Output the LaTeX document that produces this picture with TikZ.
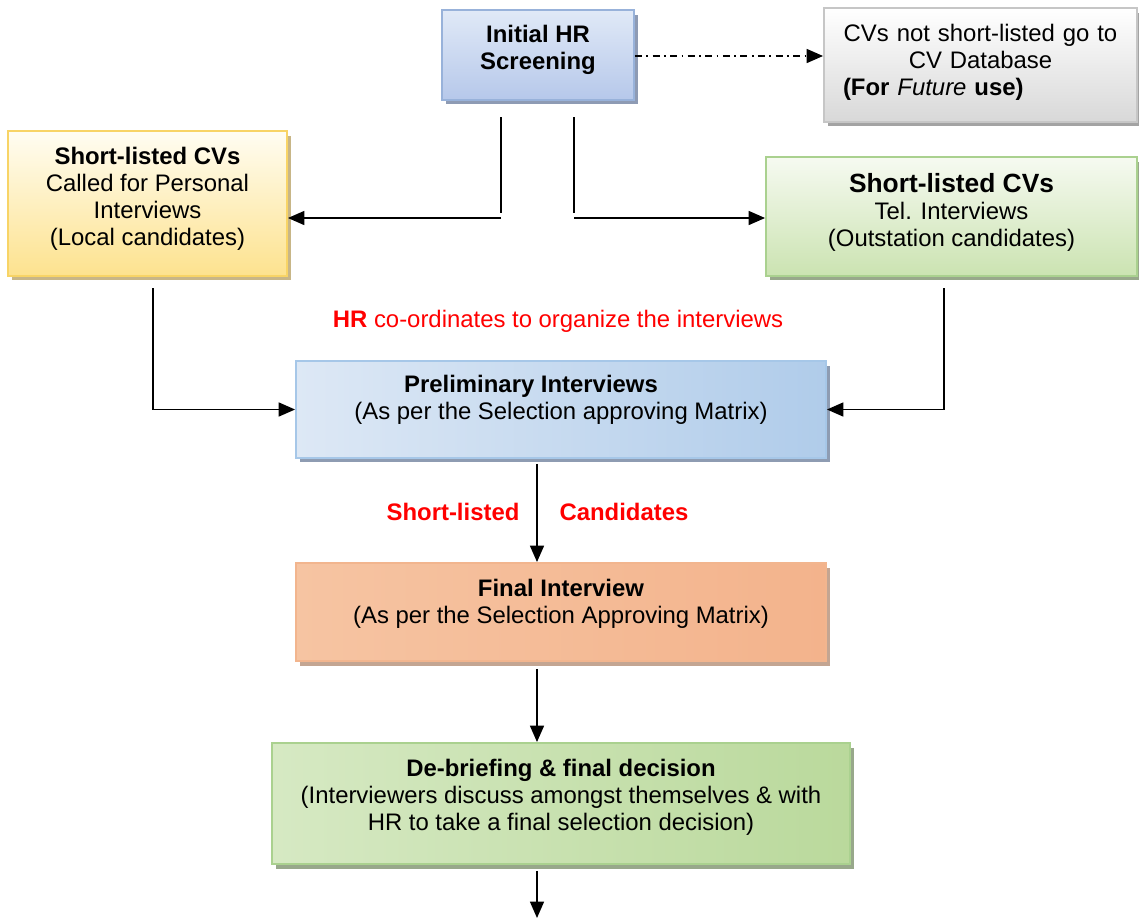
\documentclass[tikz,border=0pt]{standalone}
\usepackage{fontspec}
\setmainfont{Liberation Sans}
\usetikzlibrary{arrows.meta, shadows}
\definecolor{hrline}{HTML}{98B2DA}
\definecolor{hrtop}{HTML}{E0E9F7}
\definecolor{hrbot}{HTML}{B6C8EA}
\definecolor{hrshad}{HTML}{8E9BB4}
\definecolor{dbline}{HTML}{C6C6C6}
\definecolor{dbbot}{HTML}{D8D8D8}
\definecolor{dbshad}{HTML}{A3A3A3}
\definecolor{ylline}{HTML}{F8D466}
\definecolor{yltop}{HTML}{FFFDF2}
\definecolor{ylbot}{HTML}{FDE28E}
\definecolor{ylshad}{HTML}{C8B687}
\definecolor{grline}{HTML}{AAD18F}
\definecolor{grtop}{HTML}{F6FAF1}
\definecolor{grbot}{HTML}{CBE3B1}
\definecolor{grshad}{HTML}{98A88B}
\definecolor{blline}{HTML}{A6C7E8}
\definecolor{blleft}{HTML}{DDE8F5}
\definecolor{blright}{HTML}{B0CCEA}
\definecolor{blshad}{HTML}{8E9CB2}
\definecolor{orline}{HTML}{F2B58E}
\definecolor{orleft}{HTML}{F6C4A2}
\definecolor{ormid}{HTML}{FDEDE3}
\definecolor{orright}{HTML}{F3B38C}
\definecolor{orshad}{HTML}{C3A592}
\definecolor{dgleft}{HTML}{D6E9C3}
\definecolor{dgmid}{HTML}{EAF3E1}
\definecolor{dgright}{HTML}{BAD99C}
\definecolor{hrred}{HTML}{FF0000}
\newcommand{\lowpad}[1]{\rule[-#1]{0pt}{#1}}

\begin{document}
\begin{tikzpicture}[x=0.02cm, y=-0.02cm, font=\fontsize{13.6}{15.4}\selectfont,
    >={Triangle[length=0.33cm, width=0.28cm]},
    box/.style={draw, line width=1.1pt, align=center, inner sep=0pt},
    boxshadow/.style={drop shadow={shadow xshift=0.08cm, shadow yshift=-0.09cm, fill=#1, opacity=1}},
    link/.style={line width=1pt, black},
    dashdotline/.style={dash pattern=on 4pt off 2.5pt on 1pt off 2.5pt},
    note/.style={text=hrred}]
\useasboundingbox (0,0) rectangle (1139,920);

\node[box, draw=hrline, top color=hrtop, bottom color=hrbot, boxshadow=hrshad, minimum width=3.84cm, minimum height=1.8cm, font=\fontsize{13.6}{15.4}\selectfont\bfseries] (screen) at (538,55) {Initial HR\\Screening\lowpad{0.3cm}};
\node[box, draw=dbline, top color=white, bottom color=dbbot, boxshadow=dbshad, minimum width=6.26cm, minimum height=2.28cm, text width=5.5cm, align=left] (cvdb) at (980.5,65) {{\centering CVs not short-listed go to\\CV Database\par}\textbf{(For} \textit{Future} \textbf{use)}\lowpad{0.22cm}};
\node[box, draw=ylline, top color=yltop, bottom color=ylbot, boxshadow=ylshad, minimum width=5.58cm, minimum height=2.9cm] (localcv) at (147.5,203.5) {\textbf{Short-listed CVs}\\Called for Personal\\Interviews\\(Local candidates)\lowpad{0.28cm}};
\node[box, draw=grline, top color=grtop, bottom color=grbot, boxshadow=grshad, minimum width=7.42cm, minimum height=2.38cm] (telcv) at (951.5,216.5) {{\fontsize{15}{17}\selectfont\textbf{Short-listed CVs}}\\Tel. Interviews\\(Outstation candidates)\lowpad{0.28cm}};
\node[box, draw=blline, left color=blleft, right color=blright, boxshadow=blshad, minimum width=10.6cm, minimum height=1.94cm] (prelim) at (561,409.5) {\textbf{Preliminary Interviews}\hspace*{1.2cm}\\(As per the Selection approving Matrix)\lowpad{0.5cm}};
\node[box, draw=orline, left color=orleft, middle color=ormid, right color=orright, boxshadow=orshad, minimum width=10.6cm, minimum height=1.96cm] (finalint) at (561,612) {\textbf{Final Interview}\\(As per the Selection Approving Matrix)\lowpad{0.44cm}};
\node[box, draw=grline, left color=dgleft, middle color=dgmid, right color=dgright, boxshadow=grshad, minimum width=11.56cm, minimum height=2.42cm] (debrief) at (561,803.5) {\textbf{De-briefing \& final decision}\\(Interviewers discuss amongst themselves \& with\\HR to take a final selection decision)\lowpad{0.36cm}};

% red remarks
\node[note] (hrnote) at (558,321) {\textbf{HR} co-ordinates to organize the interviews};
\node[note] (shortnote) at (453,512) {\textbf{Short-listed}};
\node[note] (candnote) at (624,512) {\textbf{Candidates}};

\coordinate (splitL) at (501,117);
\coordinate (splitR) at (574,117);
\coordinate (cornerL) at (501,218);
\coordinate (cornerR) at (574,218);
\coordinate (dropL) at (153,288);
\coordinate (dropR) at (944,288);
\coordinate (spine) at (537,0);
\coordinate (outlet) at (537,918);

\draw[link, dashdotline, ->] (screen.east |- 0,56) -- (cvdb.west |- 0,56);
\draw[link] (splitL) -- ([yshift=0.1cm]cornerL);
\draw[link, ->] (cornerL) -- (cornerL -| localcv.east);
\draw[link] (splitR) -- ([yshift=0.1cm]cornerR);
\draw[link, ->] (cornerR) -- (cornerR -| telcv.west);
\draw[link, ->] (dropL) |- (prelim.west);
\draw[link, ->] (dropR) |- (prelim.east);
\draw[link, ->] ([yshift=-0.1cm]prelim.south -| spine) -- (finalint.north -| spine);
\draw[link, ->] ([yshift=-0.14cm]finalint.south -| spine) -- (debrief.north -| spine);
\draw[link, ->] ([yshift=-0.12cm]debrief.south -| spine) -- (outlet);
\end{tikzpicture}
\end{document}
